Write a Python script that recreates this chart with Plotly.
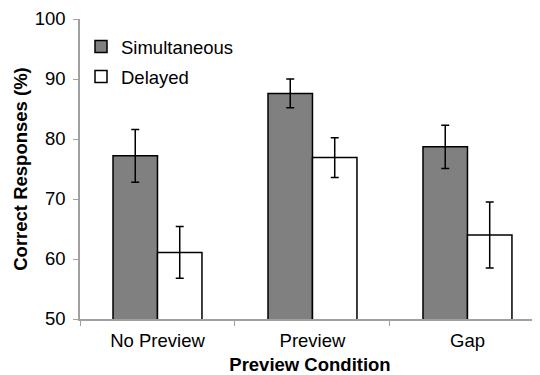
import plotly.graph_objects as go

categories = ["No Preview", "Preview", "Gap"]
simultaneous = [77.2, 87.6, 78.7]
simultaneous_err = [4.4, 2.4, 3.6]
delayed = [61.1, 76.9, 64.0]
delayed_err = [4.3, 3.3, 5.5]
y_ticks = [50, 60, 70, 80, 90, 100]

FONT = "Liberation Sans, Arial, sans-serif"
FS = 18.5

fig = go.Figure()
fig.add_trace(go.Bar(
    name="Simultaneous", x=categories, y=simultaneous,
    marker=dict(color="#808080", line=dict(color="#000000", width=1.5)),
    error_y=dict(type="data", array=simultaneous_err, color="#000000", thickness=1.5, width=4),
    legend="legend", showlegend=True,
))
fig.add_trace(go.Bar(
    name="Delayed", x=categories, y=delayed,
    marker=dict(color="#ffffff", line=dict(color="#000000", width=1.5)),
    error_y=dict(type="data", array=delayed_err, color="#000000", thickness=1.5, width=4),
    legend="legend2", showlegend=True,
))

legend_common = dict(font=dict(family=FONT, size=FS, color="#000000"),
                     bgcolor="rgba(0,0,0,0)", borderwidth=0,
                     xanchor="left", yanchor="middle", itemwidth=30)

fig.update_layout(
    width=532, height=367,
    margin=dict(l=72, r=0, t=11, b=56, autoexpand=False),
    paper_bgcolor="white", plot_bgcolor="white",
    showlegend=True,
    barmode="group", bargap=0.426, bargroupgap=0,
    font=dict(family=FONT, size=FS, color="#000000"),
    legend=dict(x=1 / 460, y=1 - (47 - 19) / 300, **legend_common),
    legend2=dict(x=1 / 460, y=1 - (77 - 19) / 300, **legend_common),
    xaxis=dict(
        range=[-0.5, 2.468], showline=True, linecolor="#a0a0a0", linewidth=1.5,
        ticks="outside", tickson="boundaries", ticklen=5, tickcolor="#a0a0a0",
        tickwidth=1, showgrid=False, zeroline=False, automargin=False,
        title=dict(text="<b>Preview Condition</b>", font=dict(size=FS), standoff=9),
        tickfont=dict(size=FS), ticklabelstandoff=4,
    ),
    yaxis=dict(
        range=[50, 100], tickvals=y_ticks, showline=True, linecolor="#a0a0a0",
        linewidth=1.5, ticks="outside", ticklen=5, tickcolor="#a0a0a0", tickwidth=1,
        showgrid=False, zeroline=False, automargin=True,
        title=dict(text="<b>Correct Responses (%)</b>", font=dict(size=FS), standoff=2),
        tickfont=dict(size=FS), ticklabelstandoff=4,
    ),
)

fig.write_html("out.html")
